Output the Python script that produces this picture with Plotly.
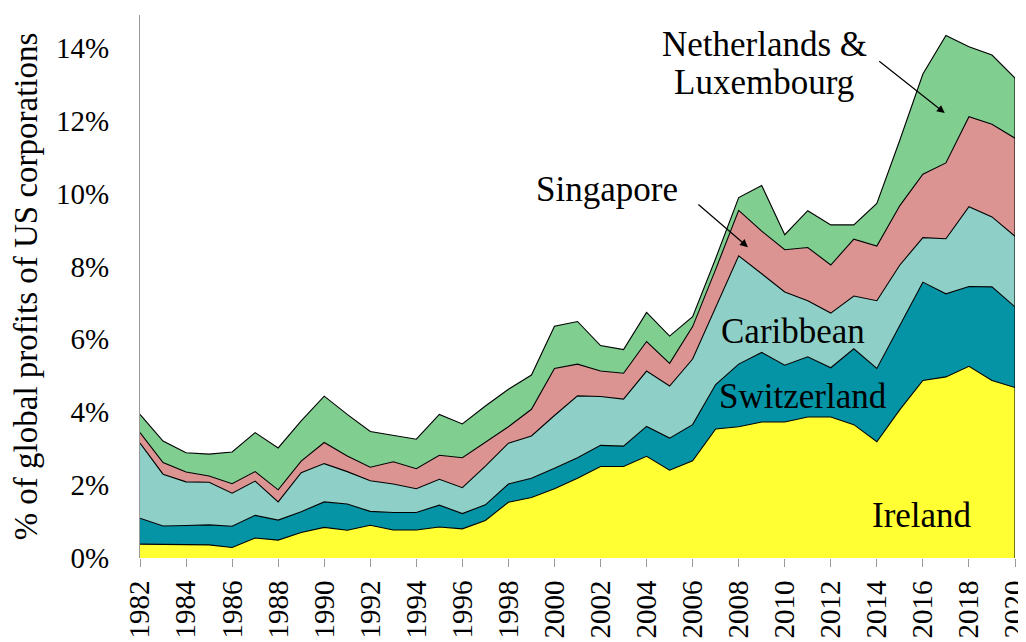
import plotly.graph_objects as go

years = list(range(1982, 2021))

ireland = [0.38, 0.38, 0.37, 0.36, 0.29, 0.55, 0.49, 0.70, 0.84, 0.76,
           0.90, 0.77, 0.77, 0.85, 0.80, 1.03, 1.53, 1.66, 1.90, 2.19,
           2.51, 2.51, 2.79, 2.41, 2.67, 3.54, 3.60, 3.73, 3.73, 3.87,
           3.87, 3.66, 3.19, 4.07, 4.87, 4.97, 5.26, 4.87, 4.68]
switzerland = [0.71, 0.50, 0.52, 0.55, 0.58, 0.62, 0.55, 0.57, 0.70, 0.72,
               0.38, 0.48, 0.48, 0.60, 0.42, 0.43, 0.50, 0.53, 0.56, 0.56,
               0.58, 0.56, 0.82, 0.88, 0.99, 1.22, 1.72, 1.91, 1.56, 1.65,
               1.35, 2.08, 2.01, 2.30, 2.70, 2.28, 2.19, 2.57, 2.21]
caribbean = [2.06, 1.42, 1.20, 1.17, 0.91, 0.94, 0.50, 1.07, 1.05, 0.89,
             0.84, 0.78, 0.65, 0.71, 0.71, 1.06, 1.12, 1.16, 1.45, 1.70,
             1.34, 1.29, 1.52, 1.43, 1.80, 2.14, 2.97, 2.16, 2.01, 1.54,
             1.50, 1.45, 1.86, 1.67, 1.22, 1.51, 2.19, 1.92, 1.94]
singapore = [0.29, 0.32, 0.27, 0.17, 0.26, 0.26, 0.33, 0.32, 0.58, 0.43,
             0.37, 0.61, 0.55, 0.66, 0.82, 0.65, 0.45, 0.73, 1.29, 0.87,
             0.70, 0.71, 0.81, 0.62, 0.89, 1.02, 1.25, 1.17, 1.16, 1.46,
             1.32, 1.56, 1.50, 1.63, 1.74, 2.08, 2.47, 2.54, 2.69]
netherlands_lux = [0.50, 0.59, 0.53, 0.60, 0.87, 1.07, 1.15, 1.10, 1.27, 1.14,
                   0.98, 0.73, 0.81, 1.12, 0.93, 1.00, 1.03, 0.94, 1.16, 1.17,
                   0.70, 0.65, 0.80, 0.75, 0.27, 0.30, 0.35, 1.25, 0.41, 1.01,
                   1.10, 0.39, 1.17, 1.80, 2.75, 3.50, 1.92, 1.90, 1.65]

y_tickvals = [0, 2, 4, 6, 8, 10, 12, 14]
y_ticktext = ["0%", "2%", "4%", "6%", "8%", "10%", "12%", "14%"]
x_tickvals = list(range(1982, 2021, 2))
x_ticktext = [str(v) for v in x_tickvals]

series = [
    ("Ireland", ireland, "#ffff33"),
    ("Switzerland", switzerland, "#0494a6"),
    ("Caribbean", caribbean, "#8ed0c8"),
    ("Singapore", singapore, "#db9491"),
    ("Netherlands & Luxembourg", netherlands_lux, "#80ce90"),
]

FONT = "Liberation Serif"

fig = go.Figure()
for name, vals, col in series:
    fig.add_trace(go.Scatter(
        x=years, y=vals, name=name, mode="lines", stackgroup="one",
        line=dict(color="black", width=1.1), fillcolor=col,
        hoverinfo="skip",
    ))

# right edge outline of the stack
total_last = sum(s[1][-1] for s in series)
fig.add_trace(go.Scatter(x=[years[-1], years[-1]], y=[0, total_last], mode="lines",
                         line=dict(color="black", width=1.1), hoverinfo="skip"))

ann_font = dict(family=FONT, size=35, color="black")
fig.add_annotation(x=2009.1, y=14.08, text="Netherlands &", showarrow=False,
                   font=ann_font, xanchor="center", yanchor="middle")
fig.add_annotation(x=2009.1, y=13.06, text="Luxembourg", showarrow=False,
                   font=ann_font, xanchor="center", yanchor="middle")
fig.add_annotation(x=2002.3, y=10.11, text="Singapore", showarrow=False,
                   font=ann_font, xanchor="center", yanchor="middle")
fig.add_annotation(x=2010.35, y=6.22, text="Caribbean", showarrow=False,
                   font=ann_font, xanchor="center", yanchor="middle")
fig.add_annotation(x=2010.8, y=4.44, text="Switzerland", showarrow=False,
                   font=ann_font, xanchor="center", yanchor="middle")
fig.add_annotation(x=2015.95, y=1.17, text="Ireland", showarrow=False,
                   font=ann_font, xanchor="center", yanchor="middle")

# arrows
fig.add_annotation(x=2016.95, y=12.21, ax=-67, ay=-53, text="", showarrow=True,
                   arrowhead=2, arrowsize=1.3, arrowwidth=1.2, arrowcolor="black")
fig.add_annotation(x=2008.4, y=8.53, ax=-51, ay=-44, text="", showarrow=True,
                   arrowhead=2, arrowsize=1.3, arrowwidth=1.2, arrowcolor="black")

# the page body has an 8px default margin, so the figure is sized to fit inside
fig.update_layout(
    width=1018, height=634,
    margin=dict(l=132, r=11, t=7, b=84),
    paper_bgcolor="white", plot_bgcolor="white",
    showlegend=False,
    font=dict(family=FONT, size=28, color="black"),
)
fig.update_xaxes(
    range=[1982, 2020], tickvals=x_tickvals, ticktext=x_ticktext, tickangle=-90,
    ticks="outside", ticklen=8, tickcolor="#999999", showgrid=False, zeroline=False,
    showline=False, tickfont=dict(family=FONT, size=29), automargin=False,
    ticklabeloverflow="allow", ticklabelstandoff=2,
)
fig.update_yaxes(
    range=[0, 14.9], tickvals=y_tickvals, ticktext=y_ticktext,
    ticks="outside", ticklen=24, tickcolor="rgba(0,0,0,0)", showgrid=False, zeroline=False,
    showline=True, linecolor="#999999", linewidth=1, automargin=False,
    tickfont=dict(family=FONT, size=29),
    title=dict(text="% of global profits of US corporations", font=dict(family=FONT, size=33), standoff=10),
)

fig.write_html("out.html")
